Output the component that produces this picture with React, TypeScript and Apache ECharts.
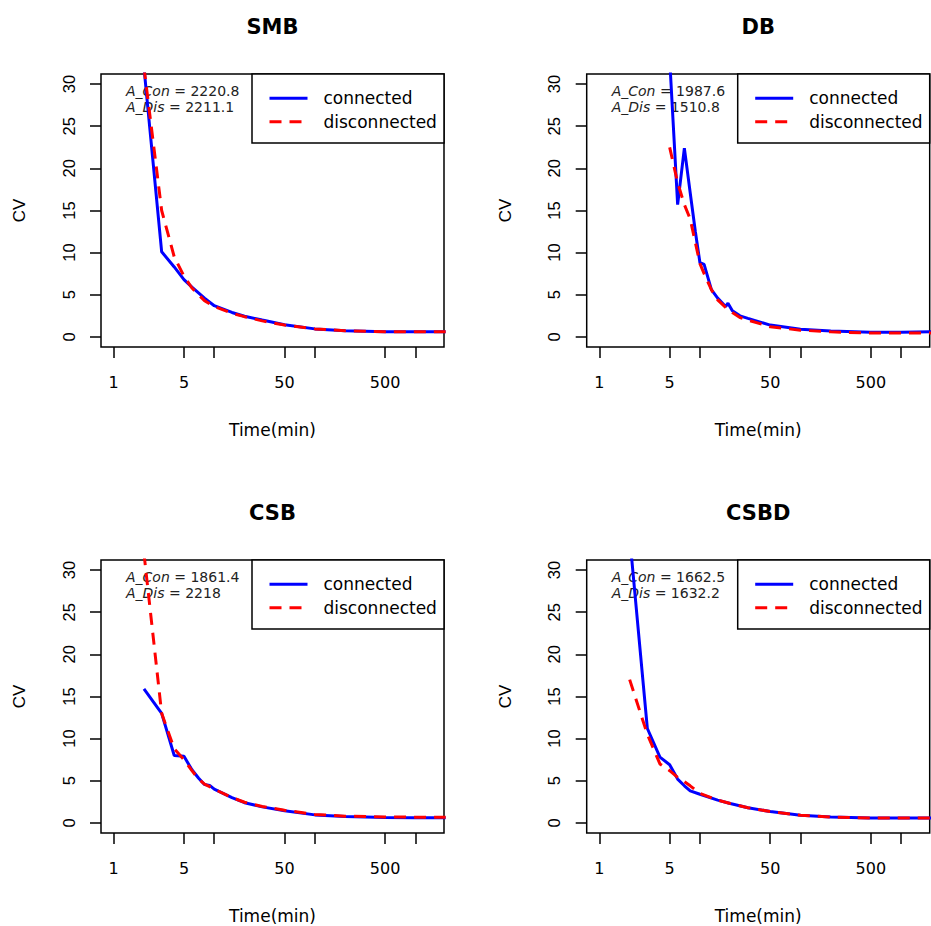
import React, { useEffect, useRef } from "react";
import * as echarts from "echarts";

// ---- data ----
const PANELS = ["SMB", "DB", "CSB", "CSBD"];
const A_CON = ["2220.8", "1987.6", "1861.4", "1662.5"];
const A_DIS = ["2211.1", "1510.8", "2218", "1632.2"];

const TIME_SMB = [2, 3, 4, 5, 6, 8, 10, 15, 20, 30, 50, 100, 200, 500, 1000, 2000];
const CON_SMB = [32, 10.1, 8.3, 6.8, 5.9, 4.6, 3.7, 2.9, 2.45, 2.0, 1.45, 0.95, 0.72, 0.62, 0.6, 0.6];
const DIS_SMB = [32, 15, 9.5, 7.2, 5.8, 4.3, 3.6, 2.8, 2.4, 1.9, 1.4, 0.95, 0.72, 0.62, 0.62, 0.62];

const TIME_DB = [5, 6, 7, 8, 9, 10, 11, 13, 15, 18, 19, 21, 25, 30, 50, 100, 200, 500, 1000, 2000];
const CON_DB = [33, 15.7, 22.4, 17.1, 12.5, 8.8, 8.6, 5.6, 4.6, 3.6, 4.0, 3.1, 2.5, 2.2, 1.4, 0.9, 0.7, 0.55, 0.55, 0.6];
const DIS_DB = [22.5, 18.3, 15.7, 14, 11.2, 8.7, 7.5, 5.6, 4.4, 3.5, 3.3, 2.9, 2.3, 2.0, 1.2, 0.8, 0.6, 0.45, 0.45, 0.45];

const TIME_CSB = [2, 3, 4, 5, 6, 7, 8, 9, 10, 15, 20, 30, 50, 100, 200, 500, 1000, 2000];
const CON_CSB = [15.9, 13, 8, 7.9, 6.3, 5.3, 4.55, 4.45, 4.0, 3.0, 2.4, 1.9, 1.45, 0.95, 0.75, 0.63, 0.6, 0.6];
const DIS_CSB = [32, 13, 8.8, 7.5, 6.2, 5.2, 4.6, 4.3, 4.0, 3.0, 2.45, 1.95, 1.5, 1.0, 0.8, 0.7, 0.68, 0.68];

const TIME_CSBD = [2, 3, 4, 5, 6, 7, 8, 10, 15, 20, 30, 50, 100, 200, 500, 1000, 2000];
const CON_CSBD = [34, 11.2, 7.8, 6.9, 5.2, 4.4, 3.8, 3.4, 2.7, 2.3, 1.8, 1.35, 0.9, 0.7, 0.58, 0.58, 0.58];
const DIS_CSBD = [17, 10.5, 7.0, 6.2, 5.4, 4.9, 4.4, 3.5, 2.7, 2.3, 1.8, 1.35, 0.9, 0.7, 0.58, 0.58, 0.58];

const X_TICKS = [1, 5, 10, 50, 100, 500, 1000];
const X_LABELS = [1, 5, 50, 500];
const Y_TICKS = [0, 5, 10, 15, 20, 25, 30];

const TIMES = [TIME_SMB, TIME_DB, TIME_CSB, TIME_CSBD];
const CONS = [CON_SMB, CON_DB, CON_CSB, CON_CSBD];
const DISS = [DIS_SMB, DIS_DB, DIS_CSB, DIS_CSBD];

// ---- layout ----
const POS = [
  { x: 101, y: 74 },
  { x: 586.7, y: 74 },
  { x: 101, y: 560 },
  { x: 586.7, y: 560 },
];
const W = 343;
const H = 273;
const X_MIN = 0.748;
const X_MAX = 1926;
const Y_MIN = -1.2;
const Y_MAX = 31.2;

const FH = "DejaVu Sans";
const FV = "Liberation Sans";

function zip(t: number[], v: number[]) {
  return t.map((x, i) => [x, v[i]]);
}

export default function App() {
  const ref = useRef<HTMLDivElement>(null);
  useEffect(() => {
    if (!ref.current) return;
    const chart = echarts.init(ref.current, null, { renderer: "svg" });
    const tickLine = { color: "#000", width: 1.5 };

    const graphic: any[] = [];
    POS.forEach((p, i) => {
      graphic.push({
        type: "rect",
        z: 3,
        shape: { x: p.x + W - 192, y: p.y, width: 192, height: 69 },
        style: { fill: "#fff", stroke: "#000", lineWidth: 1.5 },
      });
      const mk = (label: string, val: string, dy: number) => ({
        type: "text",
        z: 1,
        x: p.x + 25,
        y: p.y + dy,
        style: {
          text: `{i|${label}} = ${val}`,
          fontFamily: FH,
          fontSize: 14,
          fill: "#222",
          verticalAlign: "middle",
          rich: {
            i: { fontStyle: "italic", fontFamily: FH, fontSize: 14, fill: "#222" },
          },
        },
      });
      graphic.push(mk("A_Con", A_CON[i], 16.7));
      graphic.push(mk("A_Dis", A_DIS[i], 32.7));
    });

    const option: any = {
      animation: false,
      backgroundColor: "#fff",
      title: PANELS.map((t, i) => ({
        text: t,
        left: POS[i].x + W / 2,
        top: POS[i].y - 57.5,
        textAlign: "center",
        padding: 0,
        textStyle: { fontFamily: FH, fontWeight: "bold", fontSize: 21, color: "#000" },
      })),
      legend: POS.map((p) => ({
        orient: "vertical",
        left: p.x + W - 192 + 16,
        top: p.y + 14.3,
        padding: 0,
        itemWidth: 38,
        itemHeight: 14,
        itemGap: 3.4,
        selectedMode: false,
        data: ["connected", "disconnected"],
        itemStyle: { color: "transparent", borderWidth: 0, opacity: 0 },
        lineStyle: { width: 3 },
        textStyle: { fontFamily: FH, fontSize: 17, lineHeight: 20, color: "#000", padding: [0, 0, 0, 11] },
      })),
      grid: POS.map((p) => ({
        left: p.x,
        top: p.y,
        width: W,
        height: H,
        show: true,
        borderColor: "#000",
        borderWidth: 1.5,
        backgroundColor: "transparent",
      })),
      xAxis: POS.map((_, i) => ({
        type: "log",
        logBase: 10,
        gridIndex: i,
        min: X_MIN,
        max: X_MAX,
        axisLine: { show: false, onZero: false },
        axisTick: { show: true, length: 11, lineStyle: tickLine, customValues: X_TICKS },
        axisLabel: {
          customValues: X_LABELS,
          margin: 27,
          fontFamily: FH,
          fontSize: 16,
          color: "#000",
          formatter: (v: number) => String(Math.round(v)),
        },
        splitLine: { show: false },
        minorTick: { show: false },
        name: "Time(min)",
        nameLocation: "middle",
        nameGap: 74,
        nameTextStyle: { fontFamily: FH, fontSize: 17, color: "#000" },
      })),
      yAxis: POS.map((_, i) => ({
        type: "value",
        gridIndex: i,
        min: Y_MIN,
        max: Y_MAX,
        axisLine: { show: false, onZero: false },
        axisTick: { show: true, length: 11, lineStyle: tickLine, customValues: Y_TICKS },
        axisLabel: {
          customValues: Y_TICKS,
          rotate: 90,
          margin: 24,
          fontFamily: FV,
          fontSize: 16.5,
          color: "#000",
        },
        splitLine: { show: false },
        name: "CV",
        nameLocation: "middle",
        nameGap: 73,
        nameTextStyle: { fontFamily: FV, fontSize: 17, color: "#000" },
      })),
      series: POS.flatMap((_, i) => [
        {
          type: "line",
          name: "connected",
          xAxisIndex: i,
          yAxisIndex: i,
          data: zip(TIMES[i], CONS[i]),
          symbol: "none",
          showSymbol: false,
          clip: true,
          lineStyle: { color: "#0000ff", width: 3 },
          itemStyle: { color: "#0000ff" },
        },
        {
          type: "line",
          name: "disconnected",
          xAxisIndex: i,
          yAxisIndex: i,
          data: zip(TIMES[i], DISS[i]),
          symbol: "none",
          showSymbol: false,
          clip: true,
          lineStyle: { color: "#ff0000", width: 3, type: [12, 8] },
          itemStyle: { color: "#ff0000" },
        },
      ]),
      graphic,
    };
    chart.setOption(option);
    return () => chart.dispose();
  }, []);
  return (
    <div
      ref={ref}
      style={{ position: "fixed", left: 0, top: 0, width: 931, height: 926, background: "#fff" }}
    />
  );
}
